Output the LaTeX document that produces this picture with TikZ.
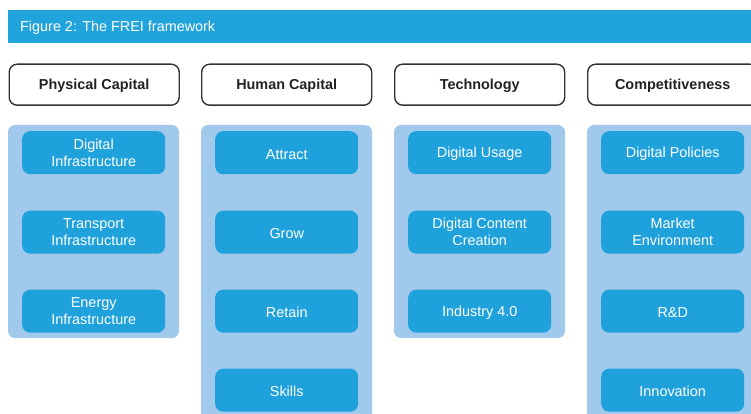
\documentclass[tikz,border=0pt]{standalone}
\usepackage{fontspec}
\setmainfont{Liberation Sans}
\definecolor{barblue}{HTML}{21A3DC}
\definecolor{boxblue}{HTML}{1FA2DC}
\definecolor{colblue}{HTML}{A0C9EC}
\definecolor{hdrline}{HTML}{333333}
\definecolor{hdrtext}{HTML}{222222}
\tikzset{
  hdrbox/.style={draw=hdrline, line width=1.4pt, fill=white, rounded corners=8pt,
    minimum width=170pt, minimum height=41pt, inner sep=0pt,
    font=\fontsize{14.4}{17}\selectfont\bfseries, text=hdrtext, anchor=north west,
    execute at begin node={\rule{0pt}{13.4pt}}},
  colbox/.style={fill=colblue, rounded corners=7pt},
  itembox/.style={fill=boxblue, rounded corners=8pt, minimum width=143pt, minimum height=43pt,
    inner sep=0pt, text=white, align=center, font=\fontsize{14.4}{17}\selectfont, anchor=north west,
    execute at begin node={\rule{0pt}{13.4pt}}},
  titlebar/.style={fill=barblue, minimum width=760pt, minimum height=33pt, inner sep=0pt, anchor=north west}
}
\begin{document}
\begin{tikzpicture}[x=1pt,y=-1pt]
\useasboundingbox (0,0) rectangle (751,414);
\clip (0,0) rectangle (751,414);
\fill[white] (0,0) rectangle (751,414);
% title
\node[titlebar] (bar) at (8,9.5) {};
\node[anchor=base west, text=white, font=\fontsize{14.4}{17}\selectfont, inner sep=0pt] (title) at (20,31.5) {Figure 2: The FREI framework};
% headers
\node[hdrbox] (h1) at (8.5,63.5) {Physical Capital};
\node[hdrbox] (h2) at (201,63.5) {Human Capital};
\node[hdrbox] (h3) at (394,63.5) {Technology};
\node[hdrbox] (h4) at (587,63.5) {Competitiveness};
% columns
\fill[colbox] (8,125) rectangle (179,338);
\fill[colbox] (201,125) rectangle (372,440);
\fill[colbox] (394,125) rectangle (565,338);
\fill[colbox] (587,125) rectangle (758,440);
% items
\node[itembox] (p1) at (22,131) {Digital\\Infrastructure};
\node[itembox] (p2) at (22,210.5) {Transport\\Infrastructure};
\node[itembox] (p3) at (22,289.5) {Energy\\Infrastructure};
\node[itembox] (m1) at (215,131) {Attract};
\node[itembox] (m2) at (215,210.5) {Grow};
\node[itembox] (m3) at (215,289.5) {Retain};
\node[itembox] (m4) at (215,368.5) {Skills};
\node[itembox] (t1) at (408,131) {Digital Usage};
\node[itembox] (t2) at (408,210.5) {Digital Content\\Creation};
\node[itembox] (t3) at (408,289.5) {Industry 4.0};
\node[itembox] (c1) at (601,131) {Digital Policies};
\node[itembox] (c2) at (601,210.5) {Market\\Environment};
\node[itembox] (c3) at (601,289.5) {R\&D};
\node[itembox] (c4) at (601,368.5) {Innovation};
\end{tikzpicture}
\end{document}
